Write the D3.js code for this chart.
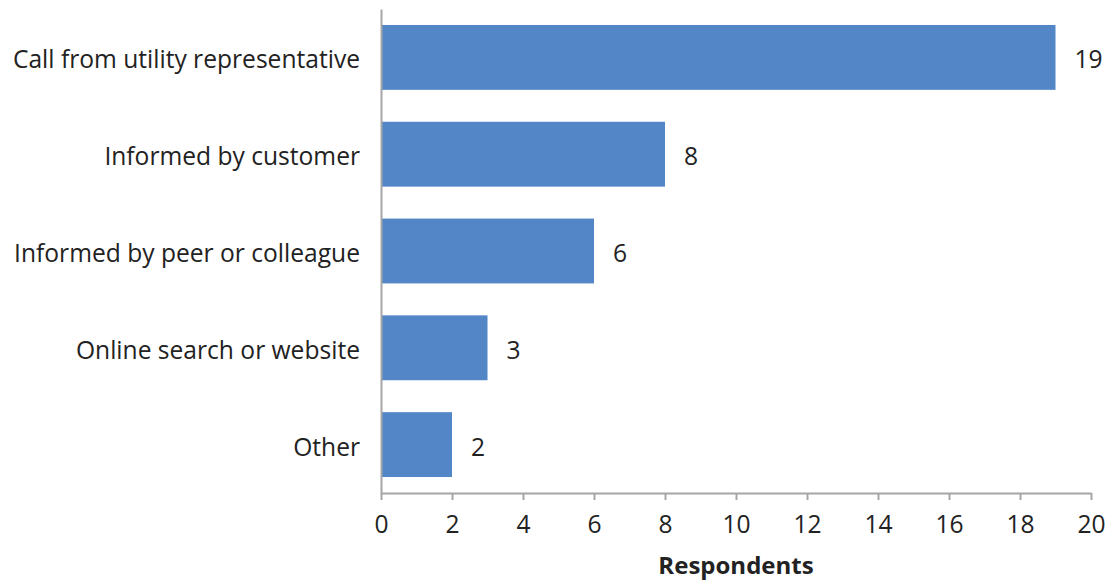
<!DOCTYPE html>
<html>
<head>
<meta charset="utf-8">
<script src="https://cdn.jsdelivr.net/npm/d3@7"></script>
<style>
  html, body { margin: 0; padding: 0; background: #fff; }
  svg text { font-family: "Open Sans", sans-serif; fill: #222; }
</style>
</head>
<body>
<svg id="chart" width="1110" height="583"></svg>
<script>
// How respondents first heard about the program
const categories = [
  "Call from utility representative",
  "Informed by customer",
  "Informed by peer or colleague",
  "Online search or website",
  "Other"
];
const values = [19, 8, 6, 3, 2];
const xTicks = [0, 2, 4, 6, 8, 10, 12, 14, 16, 18, 20];
const xTitle = "Respondents";

const svg = d3.select("#chart");
const margin = { left: 381, right: 19, top: 9, bottom: 90 };
const W = 1110, H = 583;
const font = "'Open Sans', sans-serif";
const fs = 24.6;

const x = d3.scaleLinear().domain([0, 20]).range([margin.left, W - margin.right]);
const y = d3.scaleBand().domain(categories).range([margin.top, H - margin.bottom]).paddingInner(0.33).paddingOuter(0.165);

const axisColor = "#a6a6a6";

// bars
svg.append("g").selectAll("rect").data(categories).join("rect")
  .attr("x", x(0))
  .attr("y", d => y(d))
  .attr("width", (d, i) => x(values[i]) - x(0))
  .attr("height", y.bandwidth())
  .attr("fill", "#5286c6");

// value labels
svg.append("g").selectAll("text").data(categories).join("text")
  .attr("x", (d, i) => x(values[i]) + 19)
  .attr("y", d => y(d) + y.bandwidth() / 2 + 11)
  .attr("font-size", fs)
  .text((d, i) => values[i]);

// x axis
const xAxis = svg.append("g")
  .attr("transform", `translate(0,${H - margin.bottom})`)
  .call(d3.axisBottom(x).tickValues(xTicks).tickSize(7).tickSizeOuter(0).tickPadding(16));
xAxis.select(".domain").attr("stroke", axisColor).attr("stroke-width", 2);
xAxis.selectAll(".tick line").attr("stroke", axisColor).attr("stroke-width", 2);
xAxis.selectAll(".tick text").attr("font-size", fs).attr("font-family", font).attr("fill", "#222");

// y axis
const yAxis = svg.append("g")
  .attr("transform", `translate(${margin.left},0)`)
  .call(d3.axisLeft(y).tickSize(0).tickPadding(21));
yAxis.select(".domain").attr("stroke", axisColor).attr("stroke-width", 2);
yAxis.selectAll(".tick text").attr("font-size", fs).attr("font-family", font).attr("fill", "#222")
  .attr("dy", null).attr("y", 11);

// axis title
svg.append("text")
  .attr("x", (x(0) + x(20)) / 2)
  .attr("y", 574)
  .attr("text-anchor", "middle")
  .attr("font-size", 24)
  .attr("font-weight", "bold")
  .text(xTitle);
</script>
</body>
</html>
